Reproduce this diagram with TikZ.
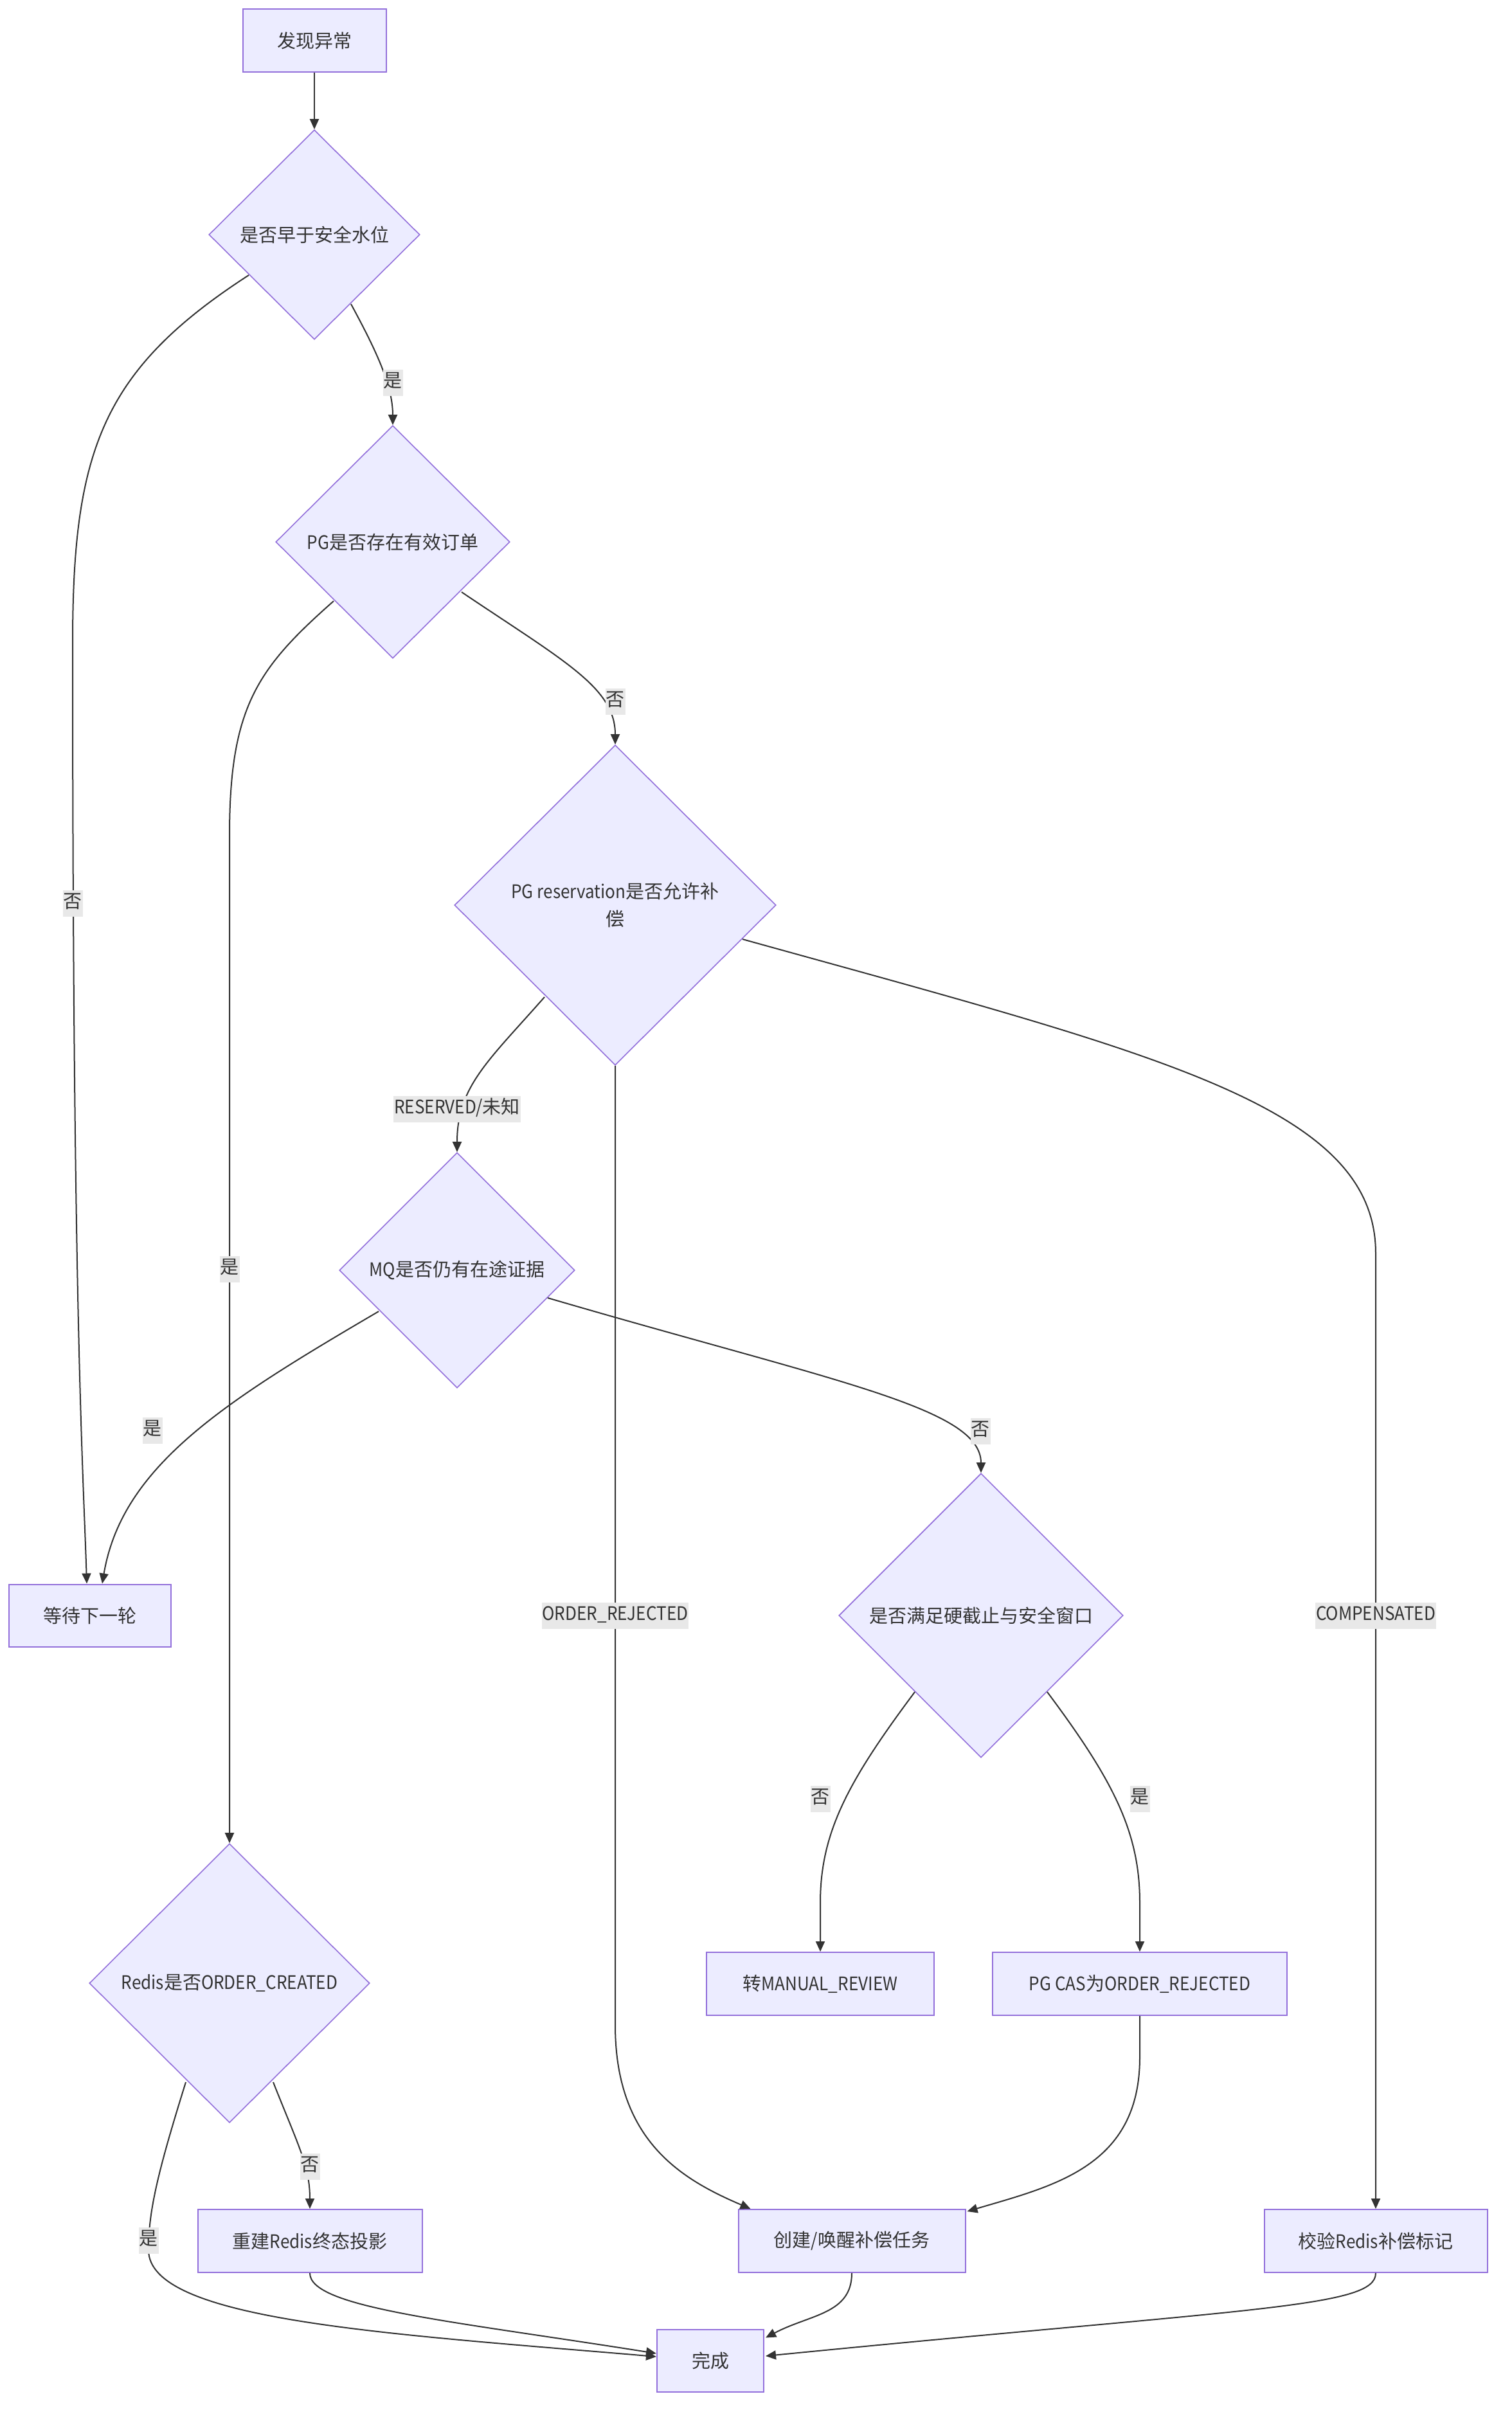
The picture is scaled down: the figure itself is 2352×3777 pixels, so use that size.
\documentclass[tikz,border=0pt]{standalone}
\usepackage{fontspec}
\setmainfont{Noto Sans CJK SC}
\newfontfamily\latn[FakeStretch=0.9]{Noto Sans CJK SC}
\usetikzlibrary{shapes.geometric,arrows.meta,calc}
\definecolor{nodefill}{HTML}{ECECFF}
\definecolor{nodeline}{HTML}{9370DB}
\definecolor{edgec}{HTML}{333333}
\definecolor{lblbg}{HTML}{E8E8E8}
\newcommand{\lt}[1]{{\latn #1}}
\begin{document}
\begin{tikzpicture}[x=1pt,y=-1pt,
  every node/.style={font=\fontsize{29}{43}\selectfont, text=edgec},
  box/.style={draw=nodeline, fill=nodefill, line width=2pt, rectangle, inner sep=0pt, align=center},
  dia/.style={draw=nodeline, fill=nodefill, line width=1.6pt, diamond, inner sep=0pt, align=center},
  edge/.style={draw=edgec, line width=2pt, -{Triangle[length=16pt,width=14pt]}},
  lbl/.style={fill=lblbg, inner xsep=1pt, inner ysep=6pt, text height=22pt, text depth=7pt}]
\fill[white] (0,0) rectangle (2352,3777);
\useasboundingbox (0,0) rectangle (2352,3777);

% nodes
\node[box, minimum width=223pt, minimum height=98pt] (A) at (489,63) {发现异常};
\node[dia, minimum width=328pt, minimum height=326pt] (B) at (489,365) {是否早于安全水位};
\node[dia, minimum width=364pt, minimum height=362pt] (C) at (611,843) {\lt{PG}是否存在有效订单};
\node[dia, minimum width=500pt, minimum height=498pt] (D) at (957,1408) {\lt{PG reservation}是否允许补\\偿};
\node[dia, minimum width=366pt, minimum height=366pt] (MQ) at (711,1976) {\lt{MQ}是否仍有在途证据};
\node[dia, minimum width=442pt, minimum height=442pt] (E) at (1526,2513) {是否满足硬截止与安全窗口};
\node[dia, minimum width=436pt, minimum height=434pt] (Redis) at (357,3085) {\lt{Redis}是否\lt{ORDER\_CREATED}};
\node[box, minimum width=252pt, minimum height=97pt] (wait) at (140,2513) {等待下一轮};
\node[box, minimum width=354pt, minimum height=98pt] (Manual) at (1276,3086) {转\lt{MANUAL\_REVIEW}};
\node[box, minimum width=458pt, minimum height=98pt] (PGCAS) at (1773,3086) {\lt{PG CAS}为\lt{ORDER\_REJECTED}};
\node[box, minimum width=349pt, minimum height=98pt] (Rebuild) at (482,3486) {重建\lt{Redis}终态投影};
\node[box, minimum width=353pt, minimum height=98pt] (Create) at (1325,3486) {创建\lt{/}唤醒补偿任务};
\node[box, minimum width=347pt, minimum height=98pt] (Check) at (2140,3486) {校验\lt{Redis}补偿标记};
\node[box, minimum width=166pt, minimum height=97pt] (Done) at (1105,3672) {完成};

% edges
\draw[edge] (A) -- (B);
\draw[edge] ($(B)+(-102,63)$) .. controls (160,575) and (113,700) .. (113,1000)
  .. controls (113,2050) and (130,2300) .. ($(wait.north)+(-5,0)$);
\draw[edge] ($(B)+(57,108)$) .. controls (585,545) and (611,600) .. (C.north);
\draw[edge] ($(C)+(107,78)$) .. controls (880,1030) and (957,1070) .. (D.north);
\draw[edge] ($(C)+(-92,92)$) .. controls (400,1040) and (357,1100) .. (357,1300) -- (Redis.north);
\draw[edge] ($(D)+(-110,143)$) .. controls (760,1650) and (711,1690) .. (MQ.north);
\draw[edge] (D.south) -- (957,3150) .. controls (957,3330) and (1060,3390) .. ($(Create.north west)+(20,0)$);
\draw[edge] ($(D)+(198,53)$) .. controls (1800,1640) and (2140,1720) .. (2140,1950) -- (Check.north);
\draw[edge] ($(MQ)+(-122,64)$) .. controls (350,2180) and (190,2280) .. ($(wait.north)+(19,0)$);
\draw[edge] ($(MQ)+(141,43)$) .. controls (1300,2150) and (1526,2190) .. (E.north);
\draw[edge] ($(E)+(-103,119)$) .. controls (1320,2770) and (1276,2850) .. (1276,2960) -- (Manual.north);
\draw[edge] ($(E)+(103,119)$) .. controls (1732,2770) and (1773,2850) .. (1773,2960) -- (PGCAS.north);
\draw[edge] (PGCAS.south) -- (1773,3200) .. controls (1773,3370) and (1640,3400) .. ($(Create.north east)+(2,4)$);
\draw[edge] ($(Redis)+(68,154)$) .. controls (465,3340) and (482,3370) .. (Rebuild.north);
\draw[edge] ($(Redis)+(-68,154)$) .. controls (245,3380) and (231,3440) .. (231,3500)
  .. controls (231,3610) and (600,3630) .. ($(Done.west)+(0,-6)$);
\draw[edge] (Rebuild.south) .. controls (482,3590) and (700,3610) .. ($(Done.west)+(0,-11)$);
\draw[edge] (Create.south) .. controls (1325,3600) and (1260,3600) .. ($(Done.north east)+(2,14)$);
\draw[edge] (Check.south) .. controls (2140,3590) and (1950,3590) .. ($(Done.east)+(2,-7)$);

% edge labels
\node[lbl] (l1) at (611,595) {是};
\node[lbl] (l2) at (113,1405) {否};
\node[lbl] (l3) at (957,1091) {否};
\node[lbl] (l4) at (357,1974) {是};
\node[lbl] (l5) at (711,1725) {\lt{RESERVED/}未知};
\node[lbl] (l6) at (957,2513) {\lt{ORDER\_REJECTED}};
\node[lbl] (l7) at (2140,2513) {\lt{COMPENSATED}};
\node[lbl] (l8) at (237,2225) {是};
\node[lbl] (l9) at (1525,2226) {否};
\node[lbl] (l10) at (1276,2798) {否};
\node[lbl] (l11) at (1773,2798) {是};
\node[lbl] (l12) at (482,3370) {否};
\node[lbl] (l13) at (231,3485) {是};
\end{tikzpicture}
\end{document}
